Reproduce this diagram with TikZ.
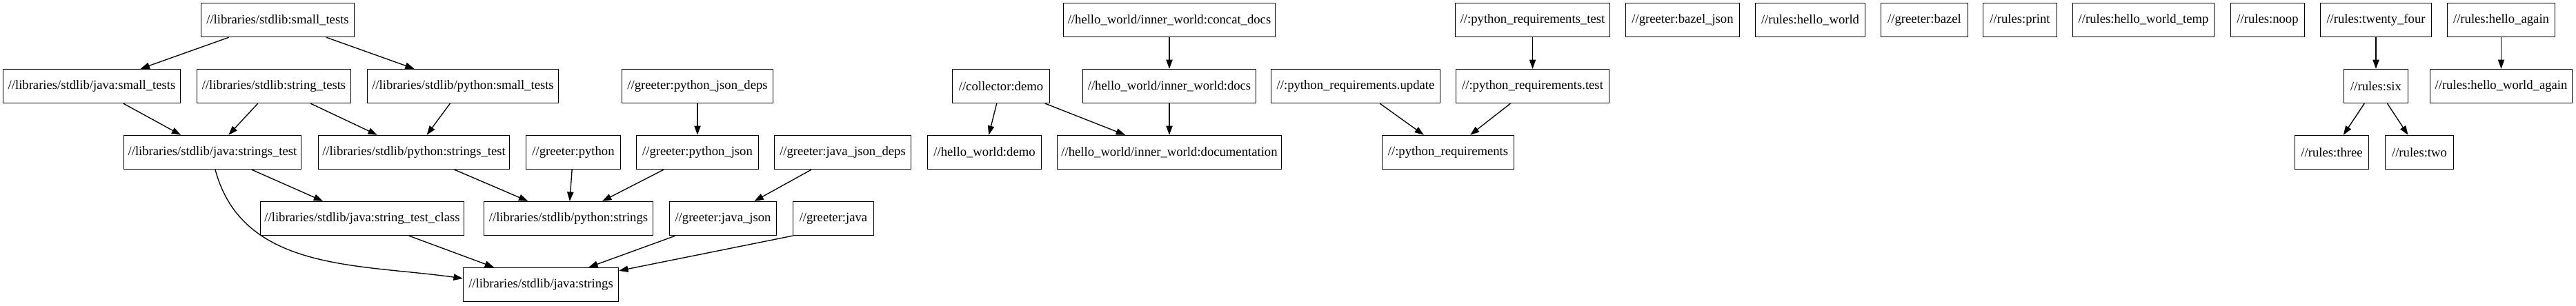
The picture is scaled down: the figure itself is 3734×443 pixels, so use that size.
\documentclass[tikz,border=0pt]{standalone}
\usepackage{fontspec}
\setmainfont{Liberation Serif}
\usetikzlibrary{arrows.meta,calc}
\tikzset{tgt/.style={draw, line width=1pt, minimum height=36.75pt, inner xsep=2pt, inner ysep=0pt, font={\fontsize{14}{16}\selectfont}}}
\tikzset{wd/.style={minimum width=#1*0.75pt}}
\tikzset{dep/.style={draw, line width=1pt, -{Triangle[length=10pt, width=7pt]}}}

\begin{document}
\begin{tikzpicture}[x=0.75pt, y=-0.75pt]
		\useasboundingbox (0,0) rectangle (3734,443);
		
		% stdlib
		\node[tgt, wd=222] (ST) at (402.5,29){//libraries/stdlib:small\_tests};
		\node[tgt, wd=257] (JST) at (133,125){//libraries/stdlib/java:small\_tests};
		\node[tgt, wd=223] (STRT) at (397,125){//libraries/stdlib:string\_tests};
		\node[tgt, wd=277] (PST) at (671,125){//libraries/stdlib/python:small\_tests};
		\node[tgt, wd=257] (JStrT) at (308,221){//libraries/stdlib/java:strings\_test};
		\node[tgt, wd=277] (PStrT) at (600,221){//libraries/stdlib/python:strings\_test};
		\node[tgt, wd=295] (JTC) at (525,317){//libraries/stdlib/java:string\_test\_class};
		\node[tgt, wd=245] (PStr) at (824,317){//libraries/stdlib/python:strings};
		\node[tgt, wd=225] (JStr) at (784,413){//libraries/stdlib/java:strings};
		
		% greeter
		\node[tgt, wd=137] (GPy) at (831,221){//greeter:python};
		\node[tgt, wd=219] (GPyJD) at (1011,125){//greeter:python\_json\_deps};
		\node[tgt, wd=177] (GPyJ) at (1011,221){//greeter:python\_json};
		\node[tgt, wd=198] (GJJD) at (1221.5,221){//greeter:java\_json\_deps};
		\node[tgt, wd=155] (GJJ) at (1048,317){//greeter:java\_json};
		\node[tgt, wd=117] (GJ) at (1208,317){//greeter:java};
		
		\draw[dep] (ST) -- (JST);
		\draw[dep] (ST) -- (PST);
		\draw[dep] (JST) -- (JStrT);
		\draw[dep] (STRT) -- (JStrT);
		\draw[dep] (STRT) -- (PStrT);
		\draw[dep] (PST) -- (PStrT);
		\draw[dep] (JStrT) -- (JTC);
		\draw[dep] ($(JStrT.south)+(4,0)$) to[out=-75, in=172] ($(JStr.west)+(0,-9)$);
		\draw[dep] (PStrT) -- (PStr);
		\draw[dep] (GPy) -- (PStr);
		\draw[dep] (GPyJ) -- (PStr);
		\draw[dep] (GPyJD) -- (GPyJ);
		\draw[dep] (GJJD) -- (GJJ);
		\draw[dep] (JTC) -- (JStr);
		\draw[dep] (GJJ) -- (JStr);
		\draw[dep] (GJ.south west) -- ($(JStr.north east)!0.2!(JStr.east)$);
		
		% hello_world
		\node[tgt, wd=307] (CC) at (1695,29){//hello\_world/inner\_world:concat\_docs};
		\node[tgt, wd=141] (CD) at (1451,125){//collector:demo};
		\node[tgt, wd=251] (Docs) at (1695,125){//hello\_world/inner\_world:docs};
		\node[tgt, wd=165] (HWD) at (1427,221){//hello\_world:demo};
		\node[tgt, wd=325] (Doc) at (1695,221){//hello\_world/inner\_world:documentation};
		
		\draw[dep] (CC) -- (Docs);
		\draw[dep] (Docs) -- (Doc);
		\draw[dep] (CD) -- (HWD);
		\draw[dep] (CD) -- (Doc);
		
		% python_requirements
		\node[tgt, wd=224] (PRTt) at (2221.5,29){//:python\_requirements\_test};
		\node[tgt, wd=245] (PRU) at (1965,125){//:python\_requirements.update};
		\node[tgt, wd=222] (PRT) at (2221.5,125){//:python\_requirements.test};
		\node[tgt, wd=191] (PR) at (2099,221){//:python\_requirements};
		
		\draw[dep] (PRTt) -- (PRT);
		\draw[dep] (PRU) -- (PR);
		\draw[dep] (PRT) -- (PR);
		
		% lone targets
		\node[tgt, wd=165] (BJ) at (2439,29){//greeter:bazel\_json};
		\node[tgt, wd=159] (RHW) at (2624,29){//rules:hello\_world};
		\node[tgt, wd=126] (GB) at (2789.5,29){//greeter:bazel};
		\node[tgt, wd=107] (RP) at (2928,29){//rules:print};
		\node[tgt, wd=205] (RHWT) at (3107,29){//rules:hello\_world\_temp};
		\node[tgt, wd=107] (RN) at (3287,29){//rules:noop};
		
		% rules
		\node[tgt, wd=161] (R24) at (3444,29){//rules:twenty\_four};
		\node[tgt, wd=156] (RHA) at (3625.5,29){//rules:hello\_again};
		\node[tgt, wd=93] (R6) at (3444,125){//rules:six};
		\node[tgt, wd=206] (RHWA) at (3625.5,125){//rules:hello\_world\_again};
		\node[tgt, wd=107] (R3) at (3380,221){//rules:three};
		\node[tgt, wd=99] (R2) at (3507,221){//rules:two};
		
		\draw[dep] (R24) -- (R6);
		\draw[dep] (RHA) -- (RHWA);
		\draw[dep] (R6) -- (R3);
		\draw[dep] (R6) -- (R2);
	\end{tikzpicture}
\end{document}
